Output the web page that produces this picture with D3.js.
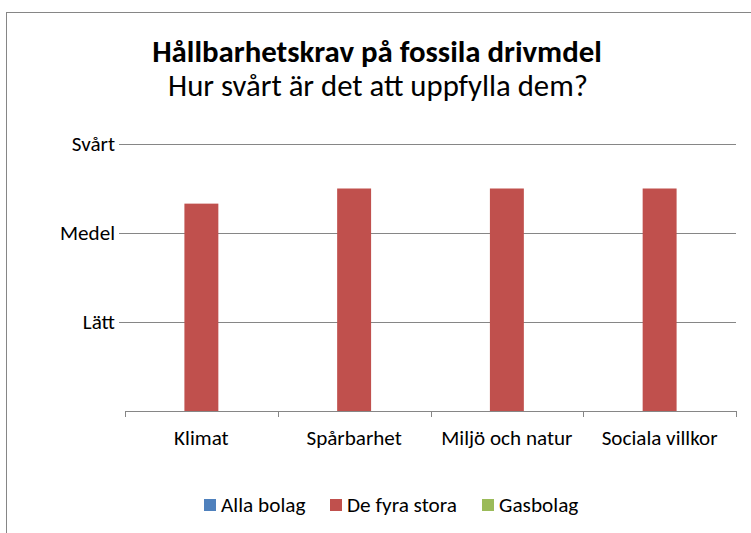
<!DOCTYPE html>
<html>
<head>
<meta charset="utf-8">
<script src="https://cdn.jsdelivr.net/npm/d3@7"></script>
<style>
  html, body { margin: 0; padding: 0; background: #fff; }
  svg { display: block; }
  text { font-family: Carlito, Calibri, Lato, "Open Sans", sans-serif; fill: #000; }
</style>
</head>
<body>
<svg id="chart" width="751" height="533"></svg>
<script>
// ---- data ----
const categories = ["Klimat", "Spårbarhet", "Miljö och natur", "Sociala villkor"];
const seriesNames = ["Alla bolag", "De fyra stora", "Gasbolag"];
const allaBolag = [0, 0, 0, 0];
const deFyraStora = [2.33, 2.5, 2.5, 2.5];
const gasbolag = [0, 0, 0, 0];
const yTickValues = [1, 2, 3];
const yTickLabels = ["Lätt", "Medel", "Svårt"];
const titleText = "Hållbarhetskrav på fossila drivmdel";
const subtitleText = "Hur svårt är det att uppfylla dem?";

const seriesValues = [allaBolag, deFyraStora, gasbolag];
const colors = ["#4F81BD", "#C0504D", "#9BBB59"];

const svg = d3.select("#chart");

// helper: pick a font size so that a sample string reaches a target width
function fitSize(sample, targetWidth, weight) {
  const t = svg.append("text").style("font-size", "20px").style("font-weight", weight || "normal").text(sample);
  const w = t.node().getComputedTextLength();
  t.remove();
  return 20 * targetWidth / w;
}
const titleSize = fitSize(titleText, 450, "bold");
const subSize = fitSize(subtitleText, 420);
const axisSize = fitSize("Sociala villkor", 116);
const legendSize = fitSize("De fyra stora", 110);

// outer frame (extends past the visible picture on right and bottom)
svg.append("rect")
  .attr("x", 6.5).attr("y", 12.5)
  .attr("width", 800).attr("height", 600)
  .attr("fill", "none").attr("stroke", "#868686").attr("stroke-width", 1);

// title
svg.append("text")
  .attr("x", 377).attr("y", 62)
  .attr("text-anchor", "middle")
  .style("font-size", titleSize + "px").style("font-weight", "bold")
  .text(titleText);
svg.append("text")
  .attr("x", 378).attr("y", 96)
  .attr("text-anchor", "middle")
  .style("font-size", subSize + "px")
  .text(subtitleText);

// plot area
const plot = { left: 125, right: 736, top: 144, bottom: 411 };

const x0 = d3.scaleBand().domain(categories).range([plot.left, plot.right]).padding(0);
const x1 = d3.scaleBand().domain(seriesNames).range([0, x0.bandwidth()]).paddingInner(0).paddingOuter(0.75);
const y = d3.scaleLinear().domain([0, 3]).range([plot.bottom, plot.top]);

// gridlines
svg.append("g").selectAll("line").data(yTickValues).join("line")
  .attr("x1", plot.left - 6).attr("x2", plot.right)
  .attr("y1", d => Math.round(y(d)) + 0.5).attr("y2", d => Math.round(y(d)) + 0.5)
  .attr("stroke", "#868686").attr("stroke-width", 1);

// y labels
svg.append("g").selectAll("text").data(yTickValues).join("text")
  .attr("x", plot.left - 10).attr("y", d => y(d) + 6.5)
  .attr("text-anchor", "end")
  .style("font-size", axisSize + "px")
  .text((d, i) => yTickLabels[i]);

// bars
const groups = svg.append("g").selectAll("g").data(categories).join("g")
  .attr("transform", d => `translate(${x0(d)},0)`);
groups.selectAll("rect")
  .data((c, ci) => seriesNames.map((s, si) => ({ s, si, v: seriesValues[si][ci] })))
  .join("rect")
  .attr("x", d => x1(d.s))
  .attr("width", x1.bandwidth())
  .attr("y", d => y(d.v))
  .attr("height", d => y(0) - y(d.v))
  .attr("fill", d => colors[d.si]);

// x axis
const xAxisG = svg.append("g");
xAxisG.append("line")
  .attr("x1", plot.left).attr("x2", plot.right)
  .attr("y1", plot.bottom + 0.5).attr("y2", plot.bottom + 0.5)
  .attr("stroke", "#868686");
const boundaries = categories.map(c => x0(c)).concat([plot.right]);
xAxisG.selectAll("line.tick").data(boundaries).join("line")
  .attr("class", "tick")
  .attr("x1", d => Math.round(d) + 0.5).attr("x2", d => Math.round(d) + 0.5)
  .attr("y1", plot.bottom).attr("y2", plot.bottom + 6)
  .attr("stroke", "#868686");
xAxisG.selectAll("text").data(categories).join("text")
  .attr("x", d => x0(d) + x0.bandwidth() / 2)
  .attr("y", 445)
  .attr("text-anchor", "middle")
  .style("font-size", axisSize + "px")
  .text(d => d);

// legend
const legendX = [204, 330, 482];
const legend = svg.append("g").selectAll("g").data(seriesNames).join("g")
  .attr("transform", (d, i) => `translate(${legendX[i]},499)`);
legend.append("rect").attr("width", 12).attr("height", 12).attr("fill", (d, i) => colors[i]);
legend.append("text").attr("x", 17).attr("y", 13).style("font-size", legendSize + "px").text(d => d);
</script>
</body>
</html>
